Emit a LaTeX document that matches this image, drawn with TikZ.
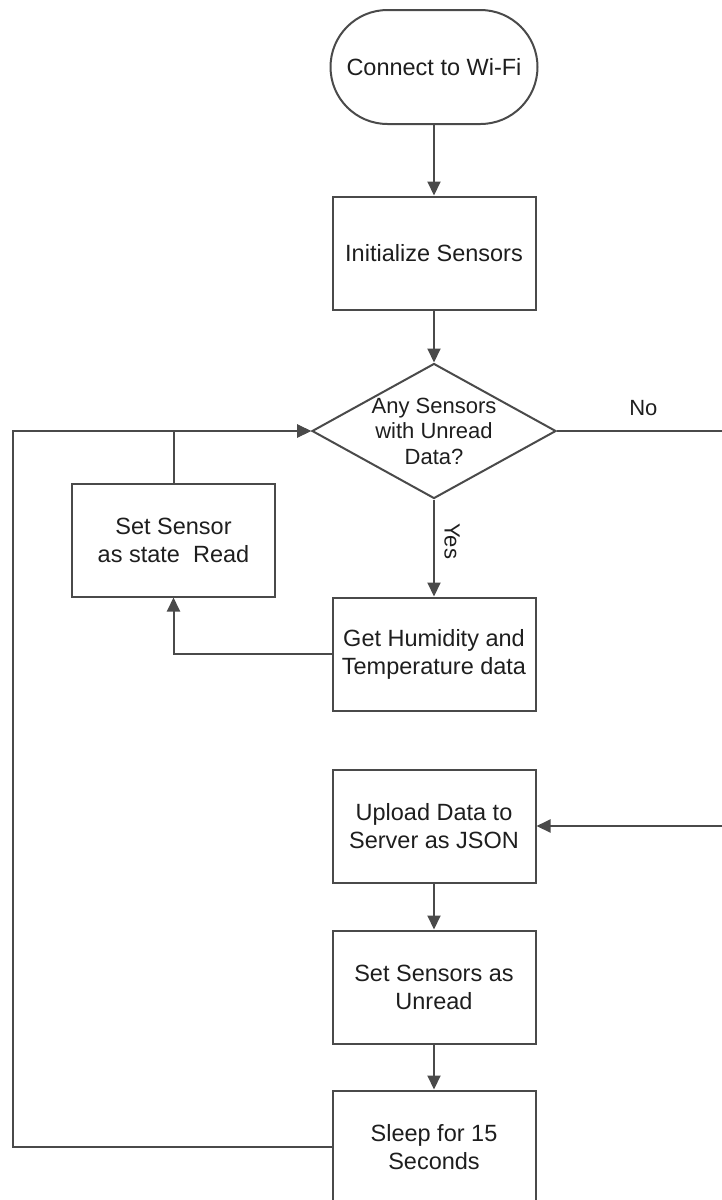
\documentclass[tikz,border=0pt]{standalone}
\usepackage{fontspec}
\setmainfont{Liberation Sans}
\usetikzlibrary{arrows.meta,shapes.geometric}
\definecolor{linegray}{HTML}{4A4A4A}
\definecolor{textgray}{HTML}{1E1E1E}
\begin{document}
\begin{tikzpicture}[x=1pt,y=-1pt,
  every node/.style={text=textgray},
  boxtext/.style={font=\fontsize{23.5}{28}\selectfont, align=center},
  procbox/.style={boxtext, draw=linegray, line width=2pt, minimum width=203pt, minimum height=113pt, inner sep=0pt},
  terminal/.style={boxtext, draw=linegray, line width=2pt, minimum width=207pt, minimum height=114pt, rounded corners=57pt, inner sep=0pt},
  decision/.style={diamond, draw=linegray, line width=2pt, minimum width=244pt, minimum height=135pt, inner sep=0pt},
  dectext/.style={font=\fontsize{22}{25.5}\selectfont, align=center},
  arr/.style={draw=linegray, line width=2pt, -{Triangle[length=14pt,width=13pt]}},
  plain/.style={draw=linegray, line width=2pt},
  lbl/.style={font=\fontsize{22}{26}\selectfont}
]
\useasboundingbox (0,0) rectangle (722,1200);
\clip (0,0) rectangle (722,1200);

% main column
\node[terminal] (wifi) at (434,67) {Connect to Wi-Fi};
\node[procbox] (init) at (434,253) {Initialize Sensors};
\node[decision] (dia) at (434,431) {};
\node[dectext] (diatext) at (434,431) {Any Sensors\\with Unread\\Data?};
\node[procbox] (get) at (434,654) {Get Humidity and\\Temperature data};
\node[procbox] (set) at (173.5,540) {Set Sensor\\as state\ \ Read};
\node[procbox] (upload) at (434,826) {Upload Data to\\Server as JSON};
\node[procbox] (unread) at (434,987) {Set Sensors as\\Unread};
\node[procbox] (sleep) at (434,1147) {Sleep for 15\\Seconds};

% free ends of the outer connectors
\coordinate (noend) at (723,431);
\coordinate (upstart) at (723,826);
\coordinate (loopcorner) at (13,1147);

% connectors
\draw[arr] (wifi) -- (init);
\draw[arr] (init) -- (dia);
\draw[arr] (dia) -- node[lbl, pos=0.43, xshift=18pt, rotate=-90] (yes) {Yes} (get);
\draw[arr] (get.west) -| (set.south);
\draw[arr] (set.north) |- (dia.west);
\draw[plain] (dia.east) -- node[lbl, pos=0.52, above=11pt] (no) {No} (noend);
\draw[arr] (upstart) -- (upload.east);
\draw[arr] (upload) -- (unread);
\draw[arr] (unread) -- (sleep);
\draw[arr] (sleep.west) -- (loopcorner) |- (dia.west);
\end{tikzpicture}
\end{document}
